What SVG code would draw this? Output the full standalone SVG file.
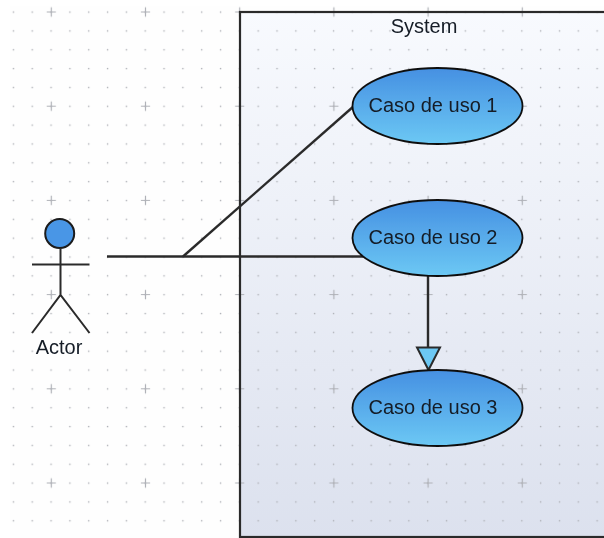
<svg xmlns="http://www.w3.org/2000/svg" width="604" height="538" viewBox="0 0 604 538">
<style>
text{font-family:"Liberation Sans",Arial,sans-serif;font-size:20px;fill:#141c26;text-anchor:middle}
.conn{fill:none;stroke:#2b2b2b;stroke-width:2.4}
.uc{fill:url(#ucFill);stroke:#111;stroke-width:1.8}
.stick{fill:none;stroke:#2b2b2b;stroke-width:2}
</style>
<defs>
<linearGradient id="sysFill" x1="0" y1="0" x2="0" y2="1"><stop offset="0" stop-color="#f8fafe"/><stop offset="1" stop-color="#dce1ee"/></linearGradient>
<linearGradient id="ucFill" x1="0" y1="0" x2="0" y2="1"><stop offset="0" stop-color="#4690e2"/><stop offset="1" stop-color="#6cc8f4"/></linearGradient>
<pattern id="dots" patternUnits="userSpaceOnUse" x="3.9" y="2.6" width="18.83" height="18.84"><rect x="8.8" y="8.8" width="1.4" height="1.4" fill="#aeb0b6"/></pattern>
<pattern id="plus" patternUnits="userSpaceOnUse" x="4.2" y="-35.1" width="94.2" height="94.2"><path d="M42.5 47.1H51.7M47.1 42.5V51.7" stroke="#b0b2b8" stroke-width="1.2" fill="none"/></pattern>
<filter id="soft" x="0" y="0" width="100%" height="100%"><feGaussianBlur stdDeviation="0.45"/></filter>
</defs>
<rect width="604" height="538" fill="#fff"/>
<g filter="url(#soft)">
<rect x="10" y="6" width="594" height="532" fill="#fefefe"/>
<g id="system">
<rect x="240" y="12" width="370" height="525" fill="url(#sysFill)"/>
<rect x="10" y="6" width="594" height="532" fill="url(#dots)"/>
<rect x="10" y="6" width="594" height="532" fill="url(#plus)"/>
<rect x="240" y="12" width="370" height="525" fill="none" stroke="#2b2b2b" stroke-width="2.2"/>
<text x="424" y="33">System</text>
</g>
<g id="connectors">
<path class="conn" d="M107 256.5H364"/>
<path class="conn" d="M183 256.5L354 106"/>
<path class="conn" d="M428 276V347.5"/>
<path d="M417 347.5H440L428.5 370Z" fill="#6cc8f4" stroke="#2b2b2b" stroke-width="2"/>
</g>
<g id="actor">
<circle cx="59.7" cy="233.5" r="14.5" fill="#4a96e6" stroke="#1a1a1a" stroke-width="2"/>
<path class="stick" d="M60.5 248V295M32 264.5H89.5M32 333L60.5 295L89.5 333"/>
<text x="59" y="354">Actor</text>
</g>
<g id="uc1"><ellipse class="uc" cx="437.5" cy="106" rx="85" ry="38"/><text x="433" y="112">Caso de uso 1</text></g>
<g id="uc2"><ellipse class="uc" cx="437.5" cy="238" rx="85" ry="38"/><text x="433" y="244">Caso de uso 2</text></g>
<g id="uc3"><ellipse class="uc" cx="437.5" cy="408" rx="85" ry="38"/><text x="433" y="414">Caso de uso 3</text></g>
</g>
</svg>
